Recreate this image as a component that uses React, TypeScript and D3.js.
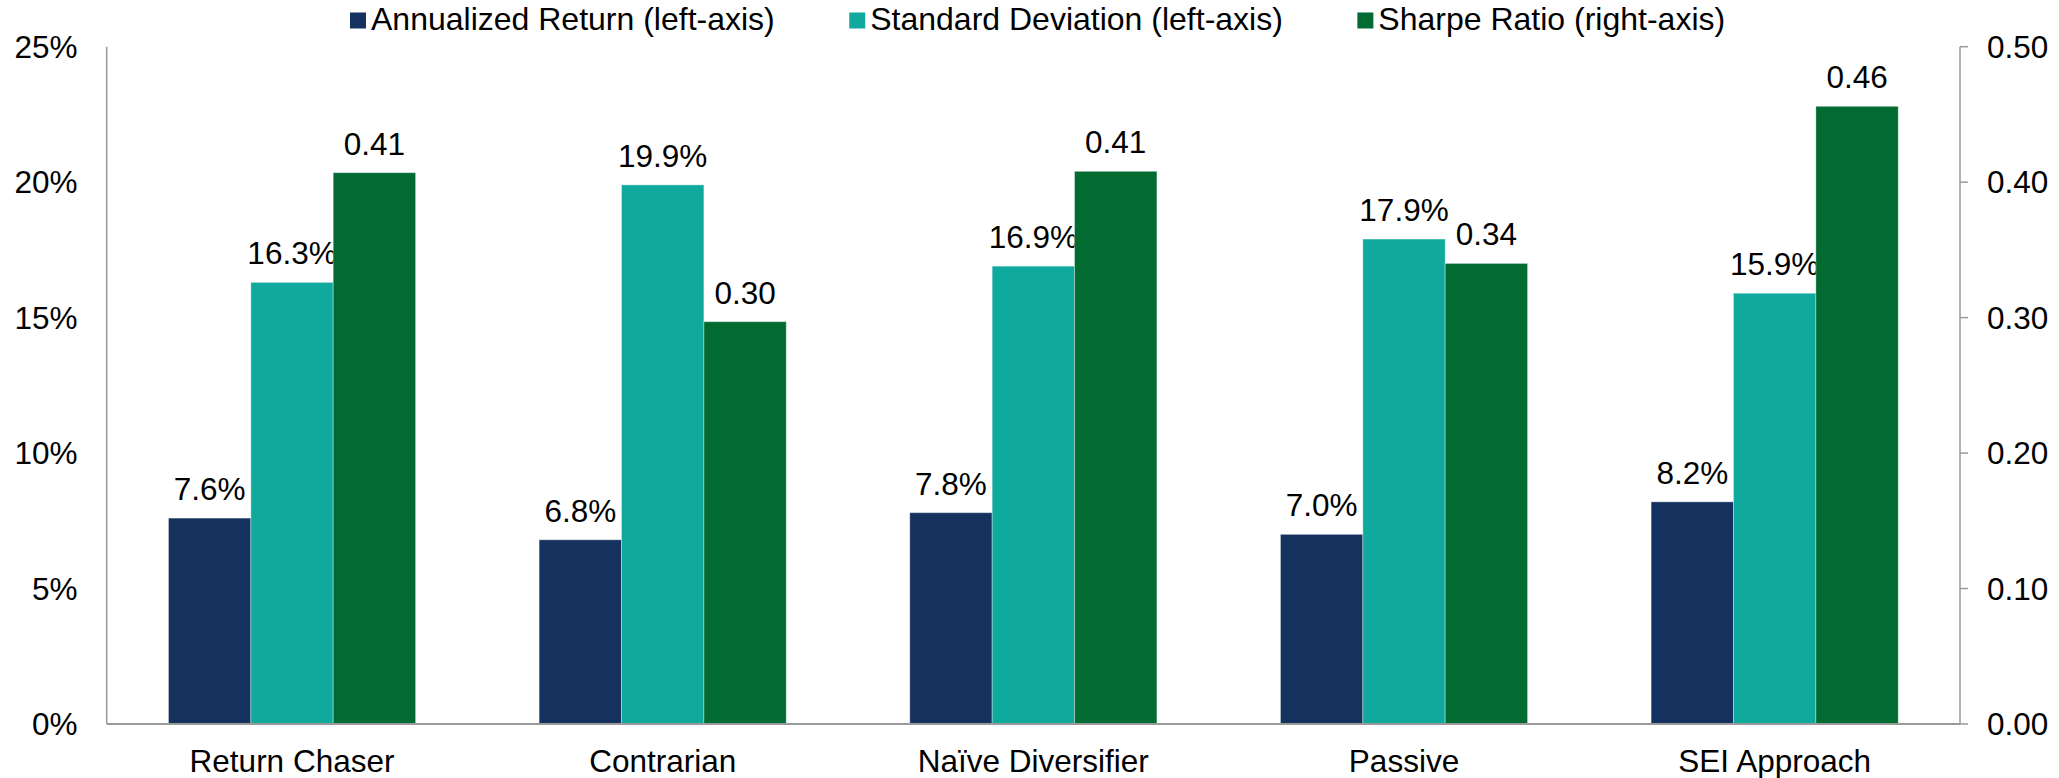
import React, { useEffect, useRef } from "react";
import * as d3 from "d3";

// Investor approaches compared on return, volatility and risk-adjusted return
const categories = ["Return Chaser", "Contrarian", "Naïve Diversifier", "Passive", "SEI Approach"];
const annualizedReturn = [7.6, 6.8, 7.8, 7.0, 8.2];
const standardDeviation = [16.3, 19.9, 16.9, 17.9, 15.9];
const sharpeRatio = [0.407, 0.297, 0.408, 0.34, 0.456];

const leftTicks = [0, 5, 10, 15, 20, 25];
const rightTicks = [0, 0.1, 0.2, 0.3, 0.4, 0.5];

const seriesNames = [
  "Annualized Return (left-axis)",
  "Standard Deviation (left-axis)",
  "Sharpe Ratio (right-axis)",
];
const seriesColors = ["#15325F", "#10A99D", "#026B32"];

const W = 2059;
const H = 778;
const FONT = "'Liberation Sans', Arial, Helvetica, sans-serif";

export default function App() {
  const ref = useRef<SVGSVGElement | null>(null);

  useEffect(() => {
    const svg = d3.select(ref.current);
    svg.selectAll("*").remove();

    const margin = { left: 106.7, right: W - 1960, top: 46.7, bottom: H - 724 };
    const x0 = margin.left;
    const x1 = W - margin.right;
    const yTop = margin.top;
    const yBot = H - margin.bottom;

    const xBand = d3
      .scaleBand<string>()
      .domain(categories)
      .range([x0, x1])
      .paddingInner(1 / 3)
      .paddingOuter(1 / 6);
    const xSub = d3
      .scaleBand<number>()
      .domain([0, 1, 2])
      .range([0, xBand.bandwidth()]);

    const yLeft = d3.scaleLinear().domain([0, 25]).range([yBot, yTop]);
    const yRight = d3.scaleLinear().domain([0, 0.5]).range([yBot, yTop]);

    const g = svg.append("g").attr("font-family", FONT).attr("font-size", 31.5);

    // Left axis labels (no tick marks)
    g.selectAll("text.lt")
      .data(leftTicks)
      .enter()
      .append("text")
      .attr("class", "lt")
      .attr("x", 77.5)
      .attr("y", (d) => yLeft(d))
      .attr("dy", "0.35em")
      .attr("text-anchor", "end")
      .attr("fill", "#000")
      .text((d) => `${d}%`);

    // Right axis labels and outward ticks
    g.selectAll("line.rt")
      .data(rightTicks)
      .enter()
      .append("line")
      .attr("x1", x1)
      .attr("x2", x1 + 8)
      .attr("y1", (d) => yRight(d))
      .attr("y2", (d) => yRight(d))
      .attr("stroke", "#9a9a9a")
      .attr("stroke-width", 1.5);
    g.selectAll("text.rt")
      .data(rightTicks)
      .enter()
      .append("text")
      .attr("class", "rt")
      .attr("x", 1987)
      .attr("y", (d) => yRight(d))
      .attr("dy", "0.35em")
      .attr("text-anchor", "start")
      .attr("fill", "#000")
      .text((d) => d3.format(".2f")(d));

    // Bars and value labels, series by series
    const series = [
      { values: annualizedReturn, y: yLeft, fmt: (v: number) => `${d3.format(".1f")(v)}%` },
      { values: standardDeviation, y: yLeft, fmt: (v: number) => `${d3.format(".1f")(v)}%` },
      { values: sharpeRatio, y: yRight, fmt: (v: number) => d3.format(".2f")(v) },
    ];

    series.forEach((s, si) => {
      const sg = g.append("g");
      const bx = (i: number) => (xBand(categories[i]) as number) + (xSub(si) as number);
      sg.selectAll("rect")
        .data(s.values)
        .enter()
        .append("rect")
        .attr("x", (_, i) => bx(i))
        .attr("width", xSub.bandwidth())
        .attr("y", (d) => s.y(d))
        .attr("height", (d) => yBot - s.y(d))
        .attr("fill", seriesColors[si])
        .attr("stroke", "rgba(255,255,255,0.35)")
        .attr("stroke-width", 1);
      sg.selectAll("text")
        .data(s.values)
        .enter()
        .append("text")
        .attr("x", (_, i) => bx(i) + xSub.bandwidth() / 2)
        .attr("y", (d) => s.y(d) - 18)
        .attr("text-anchor", "middle")
        .attr("fill", "#000")
        .text((d) => s.fmt(d));
    });

    // Axis lines
    g.append("line")
      .attr("x1", x0)
      .attr("x2", x0)
      .attr("y1", yTop)
      .attr("y2", yBot)
      .attr("stroke", "#9a9a9a")
      .attr("stroke-width", 1.5);
    g.append("line")
      .attr("x1", x1)
      .attr("x2", x1)
      .attr("y1", yTop)
      .attr("y2", yBot)
      .attr("stroke", "#9a9a9a")
      .attr("stroke-width", 1.5);
    g.append("line")
      .attr("x1", x0)
      .attr("x2", x1)
      .attr("y1", yBot)
      .attr("y2", yBot)
      .attr("stroke", "#9a9a9a")
      .attr("stroke-width", 2);

    // Category labels
    g.selectAll("text.cat")
      .data(categories)
      .enter()
      .append("text")
      .attr("class", "cat")
      .attr("x", (d) => (xBand(d) as number) + xBand.bandwidth() / 2)
      .attr("y", 772)
      .attr("text-anchor", "middle")
      .attr("fill", "#000")
      .text((d) => d);

    // Legend laid out left to right
    let lx = 350;
    seriesNames.forEach((name, i) => {
      g.append("rect")
        .attr("x", lx)
        .attr("y", 12.5)
        .attr("width", 16)
        .attr("height", 16)
        .attr("fill", seriesColors[i]);
      const t = g
        .append("text")
        .attr("x", lx + 21)
        .attr("y", 30)
        .attr("font-size", 32)
        .attr("fill", "#000")
        .text(name);
      const w = (t.node() as SVGTextElement).getComputedTextLength();
      lx += 21 + w + 74.5;
    });
  }, []);

  return (
    <svg
      ref={ref}
      width={W}
      height={H}
      style={{ position: "absolute", left: 0, top: 0, background: "#fff" }}
    />
  );
}
